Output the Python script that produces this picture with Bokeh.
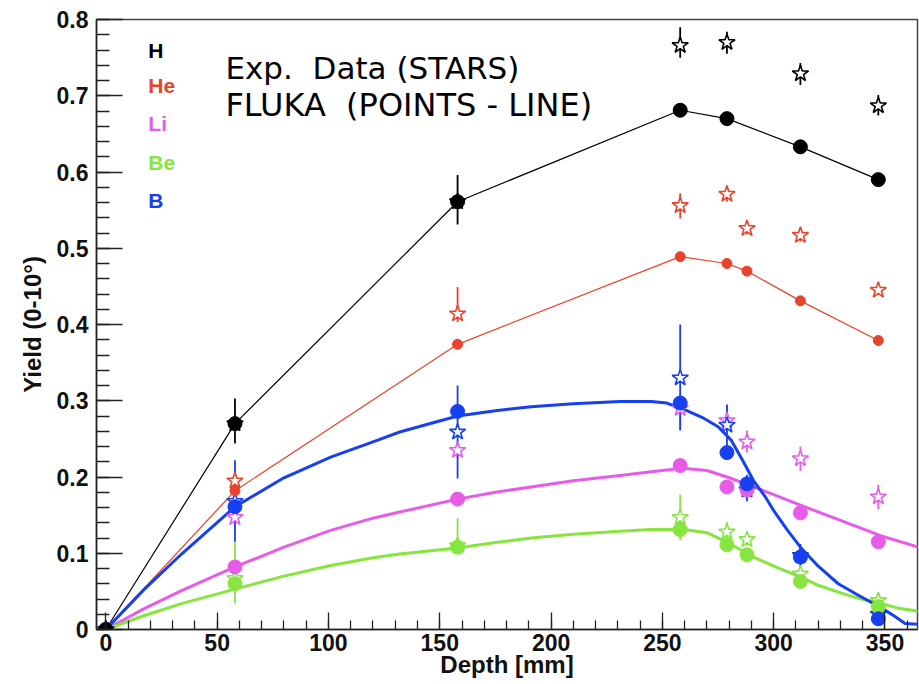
from bokeh.plotting import figure
from bokeh.models import Range1d, FixedTicker, Label
from bokeh.embed import file_html
from bokeh.resources import INLINE

# ---------------- data ----------------
# FLUKA points
fl_depth = [0, 58, 158, 258, 279, 288, 312, 347]
h_depth = [0, 58, 158, 258, 279, 312, 347]
h_fluka = [0, 0.270, 0.561, 0.681, 0.670, 0.633, 0.590]
he_fluka = [0, 0.182, 0.374, 0.489, 0.480, 0.470, 0.431, 0.379]
li_fluka = [0, 0.082, 0.171, 0.215, 0.187, 0.183, 0.153, 0.115]
be_fluka = [0, 0.060, 0.108, 0.131, 0.111, 0.098, 0.063, 0.030]
b_fluka = [0, 0.161, 0.286, 0.297, 0.232, 0.191, 0.095, 0.014]

# FLUKA continuous curves
b_curve_x = [0, 17, 34, 58, 80, 101, 120, 132, 158, 175, 191, 210, 231, 245, 252, 261, 268, 275, 281, 286,
             291, 296, 300, 306, 312, 320, 329, 338, 348, 355, 359, 365]
b_curve_y = [0, 0.052, 0.099, 0.161, 0.199, 0.226, 0.246, 0.259, 0.280, 0.287, 0.292, 0.296, 0.299, 0.299,
             0.297, 0.287, 0.278, 0.266, 0.248, 0.222, 0.195, 0.175, 0.156, 0.131, 0.108, 0.083, 0.060,
             0.045, 0.029, 0.016, 0.008, 0.007]
li_curve_x = [0, 17, 34, 58, 80, 101, 120, 132, 158, 175, 191, 210, 231, 245, 259, 270, 280, 291, 300, 312,
              330, 348, 365]
li_curve_y = [0, 0.027, 0.051, 0.082, 0.108, 0.130, 0.146, 0.154, 0.171, 0.180, 0.187, 0.195, 0.202, 0.207,
              0.2115, 0.2085, 0.199, 0.187, 0.177, 0.163, 0.143, 0.123, 0.108]
be_curve_x = [0, 17, 34, 58, 80, 101, 120, 132, 158, 175, 191, 210, 231, 245, 259, 270, 279, 291, 300, 312,
              320, 329, 338, 348, 356, 365]
be_curve_y = [0, 0.018, 0.034, 0.053, 0.070, 0.084, 0.094, 0.099, 0.107, 0.114, 0.120, 0.125, 0.129, 0.131,
              0.1315, 0.127, 0.1145, 0.095, 0.083, 0.069, 0.058, 0.049, 0.041, 0.034, 0.028, 0.024]

# Experimental data (stars) with errors
h_exp_x = [0, 58, 158, 258, 279, 312, 347]
h_exp = [0, 0.270, 0.561, 0.766, 0.770, 0.729, 0.687]
h_up = [0.012, 0.033, 0.035, 0.024, 0.014, 0.014, 0.014]
h_dn = [0.012, 0.026, 0.030, 0.016, 0.015, 0.015, 0.013]

exp_x = [58, 158, 258, 279, 288, 312, 347]
he_exp = [0.195, 0.414, 0.556, 0.571, 0.526, 0.517, 0.445]
he_up = [0.008, 0.035, 0.016, 0.010, 0.008, 0.008, 0.006]
he_dn = [0.008, 0.011, 0.017, 0.010, 0.008, 0.008, 0.006]
li_exp = [0.147, 0.235, 0.290, 0.274, 0.246, 0.224, 0.174]
li_up = [0.015, 0.010, 0.020, 0.020, 0.015, 0.016, 0.016]
li_dn = [0.015, 0.010, 0.028, 0.020, 0.014, 0.016, 0.016]
be_exp = [0.067, 0.110, 0.147, 0.128, 0.118, 0.073, 0.038]
be_up = [0.048, 0.036, 0.030, 0.013, 0.008, 0.008, 0.006]
be_dn = [0.033, 0.004, 0.030, 0.013, 0.008, 0.008, 0.006]
b_exp = [0.168, 0.259, 0.330, 0.268, 0.183, 0.097, 0.020]
b_up = [0.054, 0.061, 0.070, 0.027, 0.020, 0.015, 0.010]
b_dn = [0.053, 0.061, 0.069, 0.030, 0.015, 0.015, 0.010]

species = ["H", "He", "Li", "Be", "B"]
x_ticks = [0, 50, 100, 150, 200, 250, 300, 350]
y_ticks = [0, 0.1, 0.2, 0.3, 0.4, 0.5, 0.6, 0.7, 0.8]

C_H = "#000000"
C_HE = "#e8432c"
C_LI = "#e65ce8"
C_BE = "#86e53e"
C_B = "#1640f0"

# ---------------- figure ----------------
p = figure(width=919, height=684, output_backend="svg", toolbar_location=None,
           x_range=Range1d(-4.2, 364.6), y_range=Range1d(0, 0.8),
           min_border_left=96, min_border_right=2, min_border_top=19, min_border_bottom=55)
p.grid.visible = False
p.outline_line_color = "#444444"
p.outline_line_width = 1.5
p.background_fill_color = "white"
p.border_fill_color = "white"

FONT = "Liberation Sans"

# axes
p.xaxis.ticker = FixedTicker(ticks=x_ticks, minor_ticks=list(range(0, 370, 10)))
p.yaxis.ticker = FixedTicker(ticks=y_ticks, minor_ticks=[round(0.02 * i, 2) for i in range(41)])
p.yaxis.major_label_overrides = {0: "0"}
for ax in (p.xaxis[0], p.yaxis[0]):
    ax.axis_line_color = "#222222"
    ax.axis_line_width = 1.5
    ax.major_tick_line_color = "#222222"
    ax.minor_tick_line_color = "#222222"
    ax.major_tick_line_width = 1.3
    ax.minor_tick_line_width = 1.3
    ax.major_tick_out = 0
    ax.minor_tick_out = 0
    ax.major_label_text_font = FONT
    ax.major_label_text_font_style = "bold"
    ax.major_label_text_font_size = "23px"
    ax.major_label_text_color = "#111111"
    ax.axis_label_text_font = FONT
    ax.axis_label_text_font_style = "bold"
    ax.axis_label_text_font_size = "24px"
    ax.axis_label_text_color = "#111111"
p.xaxis.major_tick_in = 17
p.xaxis.minor_tick_in = 9
p.yaxis.major_tick_in = 26
p.yaxis.minor_tick_in = 13
p.xaxis.axis_label = "Depth [mm]"
p.yaxis.axis_label = "Yield (0-10°)"
p.xaxis.major_label_standoff = 4
p.xaxis.axis_label_standoff = -3
p.yaxis.major_label_standoff = 8
p.yaxis.axis_label_standoff = 8

# FLUKA lines
p.line(h_depth, h_fluka, line_color=C_H, line_width=1.2)
p.line(fl_depth, he_fluka, line_color=C_HE, line_width=1.2)
p.line(li_curve_x, li_curve_y, line_color=C_LI, line_width=3, line_join="round")
p.line(be_curve_x, be_curve_y, line_color=C_BE, line_width=3, line_join="round")
p.line(b_curve_x, b_curve_y, line_color=C_B, line_width=3, line_join="round")

# Experimental error bars and stars
exp_sets = [
    (h_exp_x, h_exp, h_up, h_dn, C_H),
    (exp_x, he_exp, he_up, he_dn, C_HE),
    (exp_x, li_exp, li_up, li_dn, C_LI),
    (exp_x, be_exp, be_up, be_dn, C_BE),
    (exp_x, b_exp, b_up, b_dn, C_B),
]
for xs, ys, up, dn, col in exp_sets:
    p.segment(x0=xs, x1=xs, y0=[y - d for y, d in zip(ys, dn)],
              y1=[y + u for y, u in zip(ys, up)], line_color=col, line_width=1.8)
for xs, ys, up, dn, col in exp_sets:
    p.scatter(xs, ys, marker="star", size=17, fill_color="white", fill_alpha=1,
              line_color=col, line_width=1.6)

# FLUKA points
p.scatter(fl_depth, be_fluka, size=14, fill_color=C_BE, line_color=C_BE)
p.scatter(fl_depth, li_fluka, size=14, fill_color=C_LI, line_color=C_LI)
p.scatter(fl_depth, b_fluka, size=14, fill_color=C_B, line_color=C_B)
p.scatter(fl_depth, he_fluka, size=10, fill_color=C_HE, line_color=C_HE)
p.scatter(h_depth, h_fluka, size=14, fill_color=C_H, line_color=C_H)

# species legend text
leg_cols = [C_H, C_HE, C_LI, C_BE, C_B]
leg_y = [0.759, 0.713, 0.664, 0.612, 0.563]
for name, col, yy in zip(species, leg_cols, leg_y):
    p.add_layout(Label(x=19.1, y=yy, text=name, text_color=col, text_font=FONT,
                       text_font_style="bold", text_font_size="21px",
                       text_baseline="middle", text_align="left"))

NB = "\u00a0"
p.add_layout(Label(x=53.7, y=0.737, text="Exp." + NB + NB + "Data (STARS)", text_color="black",
                   text_font="DejaVu Sans", text_font_size="31px",
                   text_baseline="middle", text_align="left"))
p.add_layout(Label(x=53.7, y=0.6885, text="FLUKA" + NB + NB + "(POINTS - LINE)", text_color="black",
                   text_font="DejaVu Sans", text_font_size="32px",
                   text_baseline="middle", text_align="left"))

open("out.html", "w").write(file_html(p, INLINE))
